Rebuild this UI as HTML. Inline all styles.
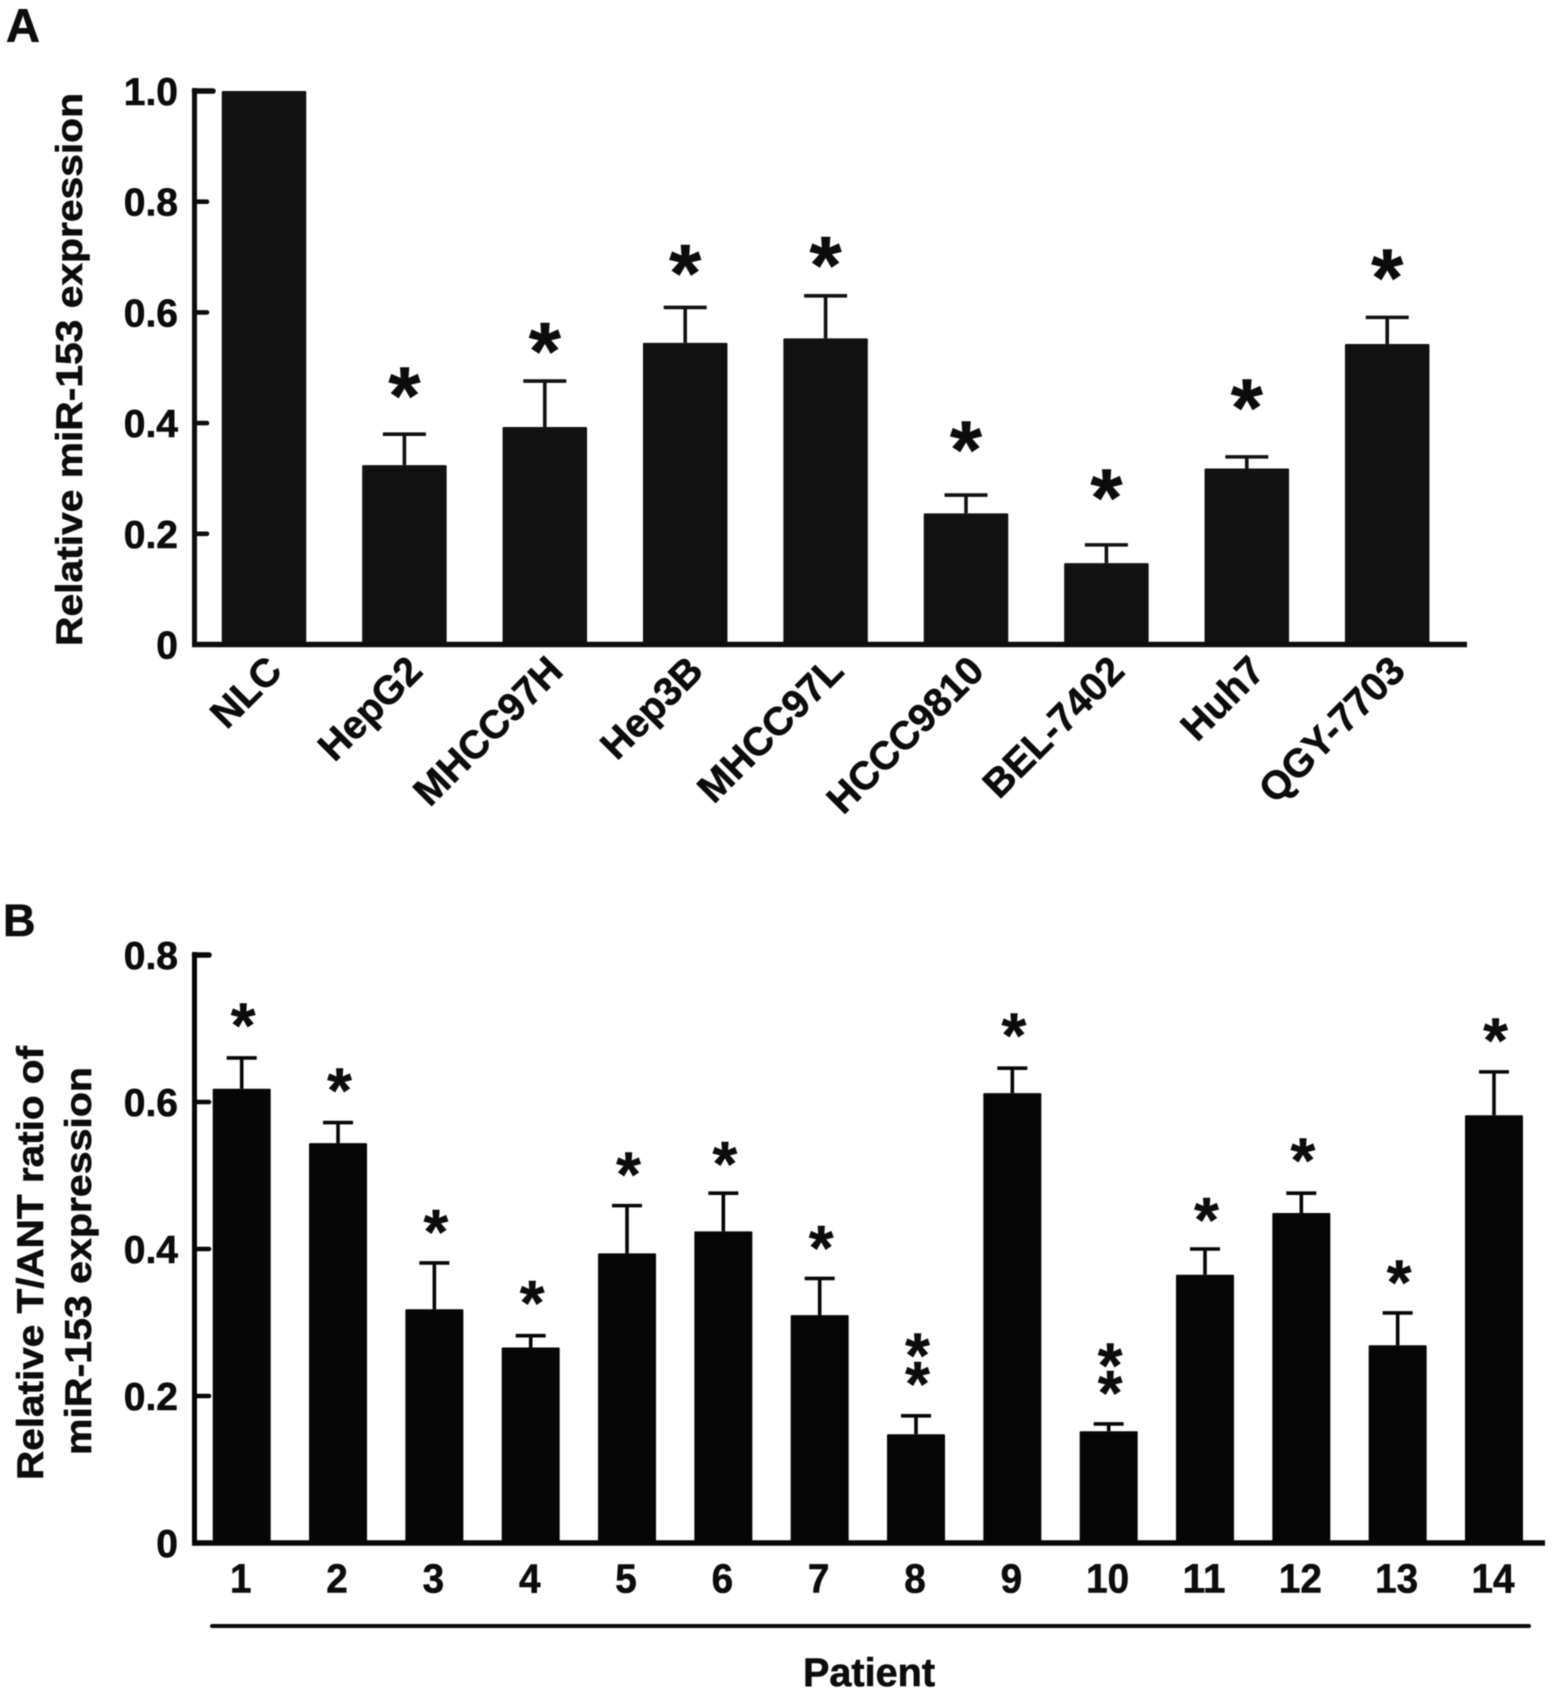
<!DOCTYPE html>
<html lang="en">
<head>
<meta charset="utf-8">
<title>Relative miR-153 expression</title>
<style>
html,body{margin:0;padding:0;background:#fff;}
svg{display:block;filter:blur(0.45px);}
text{font-family:"Liberation Sans",sans-serif;font-weight:bold;fill:#0c0c0c;stroke:#0c0c0c;stroke-width:0.6px;}
</style>
</head>
<body>
<svg id="figure" xmlns="http://www.w3.org/2000/svg" width="1559" height="1700" viewBox="0 0 1559 1700">
  <rect width="1559" height="1700" fill="#ffffff"/>
  <text x="6" y="42" font-size="47">A</text>
  <text x="3" y="936" font-size="45">B</text>
  <text transform="translate(82,646) rotate(-90)" font-size="37" textLength="553" lengthAdjust="spacingAndGlyphs">Relative miR-153 expression</text>
  <text transform="translate(43,1480) rotate(-90)" font-size="37" textLength="434" lengthAdjust="spacingAndGlyphs">Relative T/ANT ratio of</text>
  <text transform="translate(91,1455) rotate(-90)" font-size="37" textLength="388" lengthAdjust="spacingAndGlyphs">miR-153 expression</text>
  <line x1="212" y1="1626" x2="1529" y2="1626" stroke="#0c0c0c" stroke-width="4" stroke-linecap="round"/>
  <text x="803" y="1686" font-size="40" textLength="132" lengthAdjust="spacingAndGlyphs">Patient</text>
  <g id="panel-a"></g>
  <g id="panel-b"></g>
</svg>
<script>
var cellLines = ['NLC', 'HepG2', 'MHCC97H', 'Hep3B', 'MHCC97L', 'HCCC9810', 'BEL-7402', 'Huh7', 'QGY-7703'];
var cellMeans = [1.0, 0.324, 0.393, 0.545, 0.553, 0.237, 0.147, 0.318, 0.543];
var cellErrorTops = [null, 0.380, 0.476, 0.609, 0.630, 0.270, 0.180, 0.339, 0.591];
var cellStarLevels = [[], [0.472], [0.552], [0.693], [0.708], [0.374], [0.288], [0.450], [0.685]];
var cellTicks = [0, 0.2, 0.4, 0.6, 0.8, 1.0];
var cellTickLabels = ['0', '0.2', '0.4', '0.6', '0.8', '1.0'];

var patients = ['1', '2', '3', '4', '5', '6', '7', '8', '9', '10', '11', '12', '13', '14'];
var patientMeans = [0.618, 0.544, 0.318, 0.266, 0.394, 0.424, 0.310, 0.148, 0.612, 0.152, 0.365, 0.449, 0.269, 0.582];
var patientErrorTops = [0.660, 0.572, 0.381, 0.282, 0.459, 0.476, 0.360, 0.173, 0.646, 0.162, 0.400, 0.476, 0.313, 0.641];
var patientStarLevels = [[0.715], [0.626], [0.434], [0.337], [0.512], [0.526], [0.412], [0.266, 0.227], [0.701], [0.252, 0.215], [0.450], [0.531], [0.365], [0.694]];
var patientTicks = [0, 0.2, 0.4, 0.6, 0.8];
var patientTickLabels = ['0', '0.2', '0.4', '0.6', '0.8'];

var NS = 'http://www.w3.org/2000/svg';

function make(parent, tag, attrs, content) {
  var el = document.createElementNS(NS, tag);
  for (var k in attrs) { el.setAttribute(k, attrs[k]); }
  if (content !== undefined) { el.textContent = content; }
  parent.appendChild(el);
  return el;
}

function drawPanel(root, opt) {
  function y(v) { return opt.yZero - (v / opt.yMax) * (opt.yZero - opt.yTop); }
  function x(i) { return opt.xFirst + i * opt.xStep; }
  var el;

  opt.means.forEach(function (m, i) {
    el = make(root, 'rect', { x: x(i) - opt.barWidth / 2, y: y(m), width: opt.barWidth, height: opt.yZero - y(m), fill: opt.barColor, rx: 1 });
    
    

    if (opt.errorTops[i] !== null) {
      el = make(root, 'line', { x1: x(i), y1: y(m), x2: x(i), y2: y(opt.errorTops[i]), stroke: opt.barColor, 'stroke-width': 3.6 });
      
      
      el = make(root, 'line', { x1: x(i) - opt.capWidth / 2, y1: y(opt.errorTops[i]), x2: x(i) + opt.capWidth / 2, y2: y(opt.errorTops[i]), stroke: opt.barColor, 'stroke-width': 3.6 });
      
      
    }

    opt.stars[i].forEach(function (level) {
      el = make(root, 'text', { x: x(i) + opt.starNudge, y: y(level) + opt.starSize * opt.starShift, 'font-size': opt.starSize, 'text-anchor': 'middle' }, '*');
      
      
    });

    if (opt.rotateLabels) {
      el = make(root, 'text', { transform: 'translate(' + (x(i) + 20) + ',' + opt.labelY + ') rotate(-45)', 'font-size': opt.labelSize, 'text-anchor': 'end' }, opt.categories[i]);
    } else {
      el = make(root, 'text', { x: x(i) - 1, y: opt.labelY, 'font-size': opt.labelSize, 'text-anchor': 'middle', textLength: opt.categories[i].length * 21.5, lengthAdjust: 'spacingAndGlyphs' }, opt.categories[i]);
    }
    
    
  });

  el = make(root, 'line', { x1: opt.axisX, y1: y(opt.yMax) - 3, x2: opt.axisX, y2: opt.yZero, stroke: opt.axisColor, 'stroke-width': 5 });
  
  

  el = make(root, 'line', { x1: opt.axisX - 2.5, y1: opt.yZero, x2: opt.axisEnd, y2: opt.yZero, stroke: opt.axisColor, 'stroke-width': 5.6 });
  
  

  opt.ticks.forEach(function (t, i) {
    if (t !== 0) {
      var top = t === opt.yMax;
      el = make(root, 'line', { x1: opt.axisX, y1: y(t), x2: top ? opt.topTickEnd : opt.tickEnd, y2: y(t), stroke: opt.axisColor, 'stroke-width': top ? 5.6 : 4.6, 'stroke-linecap': 'round' });
      
      
    }
    el = make(root, 'text', { x: 178, y: y(t) + 14, 'font-size': 39, 'text-anchor': 'end' }, opt.tickLabels[i]);
    
    
  });
}

drawPanel(document.getElementById('panel-a'), {
  categories: cellLines, means: cellMeans, errorTops: cellErrorTops, stars: cellStarLevels,
  ticks: cellTicks, tickLabels: cellTickLabels, yMax: 1.0, yTop: 91, yZero: 644.5,
  xFirst: 264, xStep: 140.4, barWidth: 84.5, capWidth: 43, barColor: '#111111', axisColor: '#0d0d0d',
  axisX: 194.5, axisEnd: 1467, tickEnd: 207, topTickEnd: 213, starSize: 82, starShift: 0.497, starNudge: 0,
  rotateLabels: true, labelY: 673, labelSize: 39.5
});
drawPanel(document.getElementById('panel-b'), {
  categories: patients, means: patientMeans, errorTops: patientErrorTops, stars: patientStarLevels,
  ticks: patientTicks, tickLabels: patientTickLabels, yMax: 0.8, yTop: 955, yZero: 1543,
  xFirst: 241.7, xStep: 96.33, barWidth: 58, capWidth: 30, barColor: '#060606', axisColor: '#060606',
  axisX: 194.5, axisEnd: 1545, tickEnd: 209, topTickEnd: 209, starSize: 63, starShift: 0.465, starNudge: 1.5,
  rotateLabels: false, labelY: 1592.5, labelSize: 41
});
</script>
</body>
</html>
